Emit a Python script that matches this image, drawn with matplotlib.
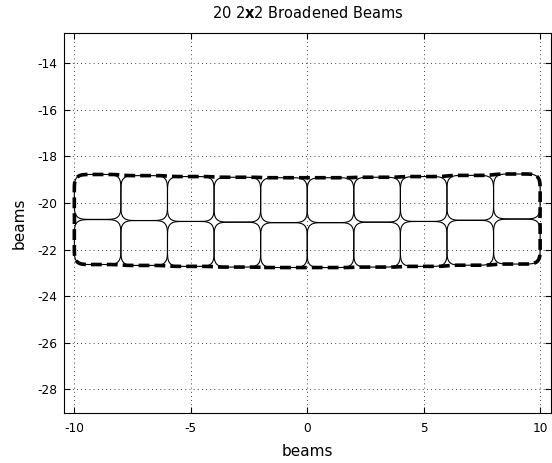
import math
import numpy as np
import matplotlib
matplotlib.use("Agg")
import matplotlib.pyplot as plt

plt.rcParams['font.family'] = ['DejaVu Sans']
plt.rcParams['axes.unicode_minus'] = False

# beam layout (beam centres, in beams)
col_x = [-9, -7, -5, -3, -1, 1, 3, 5, 7, 9]
top_row_y = [-19.74, -19.79, -19.83, -19.86, -19.88, -19.88, -19.86, -19.83, -19.78, -19.72]
bot_row_y = [-21.68, -21.72, -21.76, -21.79, -21.81, -21.81, -21.79, -21.76, -21.71, -21.66]
beam_w = 2.0
beam_h = 1.93
blur = 0.22          # broadening of each 2x2 beam
level = 0.5          # half power contour

x_ticks = [-10, -5, 0, 5, 10]
y_ticks = [-28, -26, -24, -22, -20, -18, -16, -14]

erf = np.vectorize(math.erf)


def profile(u, c, width):
    k = blur * math.sqrt(2)
    return 0.5 * (erf((u - c + width / 2) / k) - erf((u - c - width / 2) / k))


fig = plt.figure(figsize=(5.52, 4.63), dpi=100)
ax = fig.add_axes([0.1165, 0.1073, 0.8812, 0.8207])

gx = np.arange(-11.5, 11.5, 0.01)
gy = np.arange(-24.5, -16.5, 0.01)
total = np.zeros((len(gy), len(gx)))
for i, xc in enumerate(col_x):
    for yc in (top_row_y[i], bot_row_y[i]):
        field = np.outer(profile(gy, yc, beam_h), profile(gx, xc, beam_w))
        total += field
        ax.contour(gx, gy, field, levels=[level], colors='k', linewidths=0.8)

cs = ax.contour(gx, gy, total, levels=[level], colors='k', linewidths=2.6)
cs.set_linestyle((0, (3, 1.4)))

ax.set_xlim(-10.43, 10.455)
ax.set_ylim(-29.04, -12.71)
ax.set_xticks(x_ticks)
ax.set_yticks(y_ticks)
ax.grid(True, color='k', linestyle=(0, (1, 4)), linewidth=0.6)
ax.tick_params(direction='in', top=True, right=True, length=4.5, width=0.8,
               labelsize=8.7)
ax.tick_params(axis='x', pad=6)
ax.tick_params(axis='y', pad=5)
for sp in ax.spines.values():
    sp.set_linewidth(0.8)

ax.set_title("20 2$\\mathbf{x}$2 Broadened Beams", fontsize=10.5, pad=11)
ax.set_xlabel("beams", fontsize=11, labelpad=6.5)
ax.set_ylabel("beams", fontsize=11, labelpad=8)

fig.savefig("out.png", dpi=100)
